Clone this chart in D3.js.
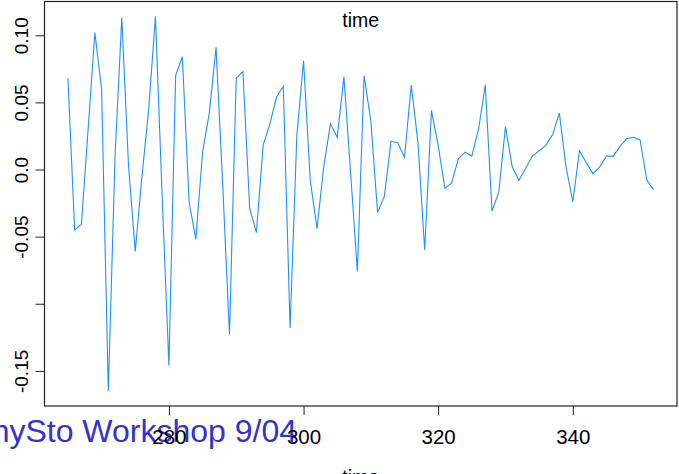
<!DOCTYPE html>
<html>
<head>
<meta charset="utf-8">
<script src="https://cdn.jsdelivr.net/npm/d3@7"></script>
<style>
  html, body { margin: 0; padding: 0; background: #fff; overflow: hidden; }
  svg { display: block; font-family: "Liberation Sans", Arial, Helvetica, sans-serif; }
</style>
</head>
<body>
<svg id="chart" width="679" height="474"></svg>
<script>
// ---- data ----
const startTime = 265;
const values = [
  0.068, -0.045, -0.041, 0.030, 0.102, 0.060, -0.165, 0.010, 0.113, 0.003,
  -0.061, -0.005, 0.045, 0.114, -0.020, -0.146, 0.070, 0.084, -0.024, -0.052,
  0.013, 0.042, 0.091, -0.012, -0.123, 0.068, 0.073, -0.029, -0.047, 0.018,
  0.034, 0.054, 0.062, -0.118, 0.025, 0.081, -0.008, -0.044, 0.002, 0.034,
  0.024, 0.069, -0.003, -0.076, 0.070, 0.036, -0.032, -0.020, 0.021, 0.020,
  0.009, 0.063, 0.020, -0.060, 0.044, 0.018, -0.014, -0.010, 0.008, 0.013,
  0.010, 0.030, 0.063, -0.031, -0.017, 0.032, 0.002, -0.008, 0.001, 0.010,
  0.014, 0.018, 0.026, 0.042, 0.002, -0.024, 0.014, 0.005, -0.003, 0.002,
  0.010, 0.010, 0.017, 0.023, 0.024, 0.022, -0.008, -0.015
];
const times = values.map((v, i) => startTime + i);
const xTicks = [280, 300, 320, 340];
const yTicks = [-0.15, -0.10, -0.05, 0.0, 0.05, 0.10];
const yTickLabels = ["-0.15", "", "-0.05", "0.0", "0.05", "0.10"];
const titleText = "time";
const xLabelText = "time";
const footerText = "nySto Workshop 9/04";

// ---- layout ----
const svg = d3.select("#chart");
const L = 44.5, R = 677, T = 1.5, B = 406;

function pad(ext, f) { const d = (ext[1] - ext[0]) * f; return [ext[0] - d, ext[1] + d]; }

const x = d3.scaleLinear().domain(pad(d3.extent(times), 0.04)).range([L, R]);
const y = d3.scaleLinear().domain(pad(d3.extent(values), 0.04)).range([B, T]);

// footer text (drawn beneath axis labels)
svg.append("text")
  .attr("x", 297).attr("y", 442)
  .attr("text-anchor", "end")
  .attr("font-size", 32)
  .attr("fill", "#3333CC")
  .text(footerText);

// line
const line = d3.line().x((d, i) => x(times[i])).y(d => y(d));
svg.append("path")
  .datum(values)
  .attr("d", line)
  .attr("fill", "none")
  .attr("stroke", "#1E90FF")
  .attr("stroke-width", 1.1)
  .attr("stroke-linejoin", "miter");

// box
svg.append("rect")
  .attr("x", L).attr("y", T)
  .attr("width", R - L).attr("height", B - T)
  .attr("fill", "none").attr("stroke", "#222").attr("stroke-width", 1.2);

// x axis
const gx = svg.append("g").attr("transform", `translate(0,${B})`)
  .call(d3.axisBottom(x).tickValues(xTicks).tickSize(9).tickPadding(0).tickFormat(d3.format("d")));
gx.select(".domain").remove();
gx.selectAll(".tick line").attr("stroke", "#222");
gx.selectAll(".tick text")
  .attr("y", 38).attr("dy", 0)
  .attr("font-size", 20.5).attr("fill", "#000")
  .attr("font-family", "Liberation Sans, Arial, sans-serif");

// y axis
const gy = svg.append("g").attr("transform", `translate(${L},0)`)
  .call(d3.axisLeft(y).tickValues(yTicks).tickSize(9)
    .tickFormat((d, i) => yTickLabels[i]));
gy.select(".domain").remove();
gy.selectAll(".tick line").attr("stroke", "#222");
gy.selectAll(".tick text")
  .attr("transform", "rotate(-90)")
  .attr("x", 0).attr("y", -16.5).attr("dy", 0)
  .attr("text-anchor", "middle")
  .attr("font-size", 19).attr("fill", "#000")
  .attr("font-family", "Liberation Sans, Arial, sans-serif");

// title
svg.append("text")
  .attr("x", (L + R) / 2).attr("y", 27)
  .attr("text-anchor", "middle")
  .attr("font-size", 19.5)
  .attr("fill", "#000")
  .text(titleText);

// x label (mostly cut off)
svg.append("text")
  .attr("x", (L + R) / 2).attr("y", 484)
  .attr("text-anchor", "middle")
  .attr("font-size", 19.5)
  .attr("fill", "#000")
  .text(xLabelText);
</script>
</body>
</html>
